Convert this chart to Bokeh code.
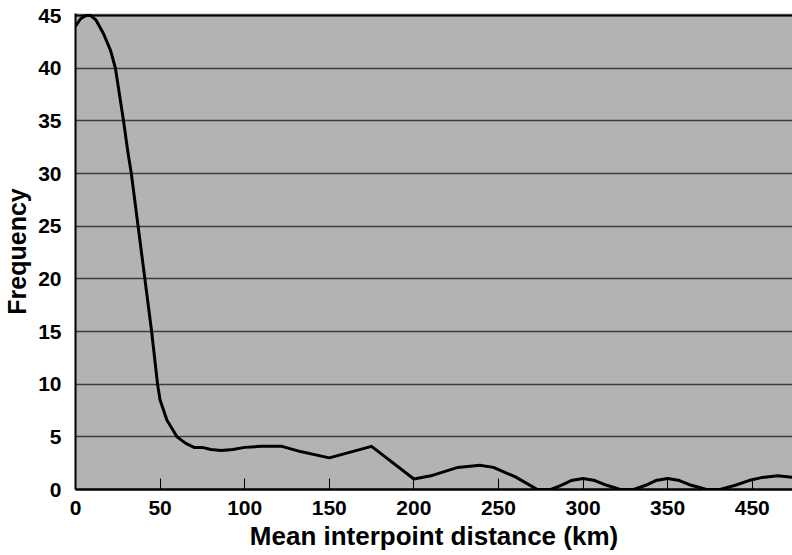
from bokeh.plotting import figure
from bokeh.models import Range1d, Span, FixedTicker
from bokeh.embed import file_html
from bokeh.resources import INLINE

# Mean interpoint distance (km) and frequency
distance_km = [0, 3, 6, 9, 12, 16.5, 20.7, 23.6, 28.4, 31, 33, 37, 41, 45, 48.5, 50, 54, 60,
               65, 70, 75, 80, 86, 93, 100, 110, 122, 133, 150, 175, 200, 210, 226, 239,
               247, 260, 273, 281, 287, 293, 300, 307, 314, 322, 330, 337, 343, 350, 357,
               364, 373, 381, 390, 398, 406, 415, 424]
frequency = [44.0, 44.7, 45.0, 45.0, 44.6, 43.3, 41.7, 40.0, 35.0, 32.0, 30.0, 25.0, 20.0,
             15.0, 10.0, 8.5, 6.6, 5.0, 4.4, 4.0, 4.0, 3.8, 3.7, 3.8, 4.0, 4.1, 4.1, 3.6,
             3.0, 4.1, 1.0, 1.3, 2.1, 2.3, 2.1, 1.2, 0.0, 0.0, 0.4, 0.85, 1.05, 0.85, 0.4,
             0.0, 0.0, 0.4, 0.85, 1.05, 0.85, 0.4, 0.0, 0.0, 0.4, 0.85, 1.15, 1.3, 1.15]

x_ticks = [0, 50, 100, 150, 200, 250, 300, 350, 400]
x_tick_labels = {0: "0", 50: "50", 100: "100", 150: "150", 200: "200", 250: "250",
                 300: "300", 350: "350", 400: "450"}
y_ticks = [0, 5, 10, 15, 20, 25, 30, 35, 40, 45]

FONT = "Liberation Sans"

p = figure(width=792, height=555, output_backend="svg", toolbar_location=None,
           x_range=Range1d(0, 423.8), y_range=Range1d(0, 45.2),
           min_border_left=75, min_border_right=0, min_border_top=13,
           min_border_bottom=66)
p.background_fill_color = "#b3b3b3"
p.border_fill_color = "white"
p.outline_line_color = None

p.line(distance_km, frequency, line_color="black", line_width=3, line_join="round")

p.add_layout(Span(location=45, dimension="width", line_color="black", line_width=2))

# grid
p.xgrid.grid_line_color = None
p.ygrid.ticker = FixedTicker(ticks=y_ticks)
p.ygrid.grid_line_color = "#3c3c3c"
p.ygrid.grid_line_width = 1.5

# x axis
xa = p.xaxis[0]
xa.ticker = FixedTicker(ticks=x_ticks)
xa.major_label_overrides = x_tick_labels
xa.axis_line_color = "black"
xa.axis_line_width = 2.5
xa.major_tick_in = 11
xa.major_tick_out = 0
xa.major_tick_line_color = "black"
xa.major_tick_line_width = 1
xa.minor_tick_line_color = None
xa.major_label_text_font = FONT
xa.major_label_text_font_style = "bold"
xa.major_label_text_font_size = "21px"
xa.major_label_text_color = "black"
xa.major_label_standoff = 11
xa.axis_label = "Mean interpoint distance (km)"
xa.axis_label_text_font = FONT
xa.axis_label_text_font_style = "bold"
xa.axis_label_text_font_size = "26px"
xa.axis_label_text_color = "black"
xa.axis_label_standoff = 3

# y axis
ya = p.yaxis[0]
ya.ticker = FixedTicker(ticks=y_ticks)
ya.axis_line_color = "black"
ya.axis_line_width = 2
ya.major_tick_in = 0
ya.major_tick_out = 0
ya.minor_tick_line_color = None
ya.major_label_text_font = FONT
ya.major_label_text_font_style = "bold"
ya.major_label_text_font_size = "21px"
ya.major_label_text_color = "black"
ya.major_label_standoff = 14
ya.axis_label = "Frequency"
ya.axis_label_text_font = FONT
ya.axis_label_text_font_style = "bold"
ya.axis_label_text_font_size = "25px"
ya.axis_label_text_color = "black"
ya.axis_label_standoff = 4

open("out.html", "w").write(file_html(p, INLINE))
